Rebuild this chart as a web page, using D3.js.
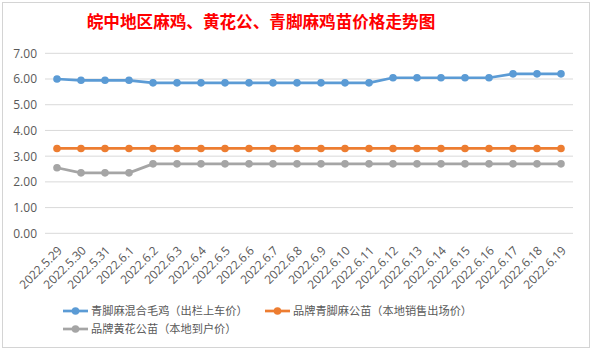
<!DOCTYPE html>
<html><head><meta charset="utf-8">
<script src="https://cdn.jsdelivr.net/npm/d3@7"></script>
<style>body{margin:0;background:#fff}svg{display:block}</style>
</head><body>
<script>
const categories = ["2022.5.29","2022.5.30","2022.5.31","2022.6.1","2022.6.2","2022.6.3","2022.6.4","2022.6.5","2022.6.6","2022.6.7","2022.6.8","2022.6.9","2022.6.10","2022.6.11","2022.6.12","2022.6.13","2022.6.14","2022.6.15","2022.6.16","2022.6.17","2022.6.18","2022.6.19"];
const seriesNames = ["青脚麻混合毛鸡（出栏上车价）","品牌青脚麻公苗（本地销售出场价）","品牌黄花公苗（本地到户价）"];
const blueValues = [6.0,5.95,5.95,5.95,5.85,5.85,5.85,5.85,5.85,5.85,5.85,5.85,5.85,5.85,6.05,6.05,6.05,6.05,6.05,6.2,6.2,6.2];
const orangeValues = [3.3,3.3,3.3,3.3,3.3,3.3,3.3,3.3,3.3,3.3,3.3,3.3,3.3,3.3,3.3,3.3,3.3,3.3,3.3,3.3,3.3,3.3];
const grayValues = [2.55,2.35,2.35,2.35,2.7,2.7,2.7,2.7,2.7,2.7,2.7,2.7,2.7,2.7,2.7,2.7,2.7,2.7,2.7,2.7,2.7,2.7];
const yTicks = [0,1,2,3,4,5,6,7];
const title = "皖中地区麻鸡、黄花公、青脚麻鸡苗价格走势图";
const colors = ["#5B9BD5","#ED7D31","#A5A5A5"];
const series = [blueValues, orangeValues, grayValues];

const W = 592, H = 351;
const svg = d3.select("body").append("svg").attr("width", W).attr("height", H);
const font = "'Noto Sans CJK SC',sans-serif";

// chart border
svg.append("rect").attr("x",2.5).attr("y",2.5).attr("width",587).attr("height",345)
  .attr("fill","#fff").attr("stroke","#D4D4D4").attr("stroke-width",1);

// title
svg.append("text").attr("x",261).attr("y",28).attr("text-anchor","middle")
  .attr("font-family","'Noto Sans CJK SC',serif").attr("font-weight","bold")
  .attr("font-size",16.6).attr("fill","#FF0000").text(title);

const x = d3.scaleBand().domain(categories).range([45,573]);
const y = d3.scaleLinear().domain([0,7]).range([233.3,53.3]);

// gridlines
svg.append("g").selectAll("line").data(yTicks).join("line")
  .attr("x1",45).attr("x2",573).attr("y1",d=>y(d)).attr("y2",d=>y(d))
  .attr("stroke","#D9D9D9").attr("stroke-width",1);

// y axis
const yAxis = svg.append("g").attr("transform","translate(45,0)")
  .call(d3.axisLeft(y).tickValues(yTicks).tickFormat(d3.format(".2f")).tickSize(0).tickPadding(8));
yAxis.select(".domain").remove();
yAxis.selectAll("text").attr("font-family","'Open Sans','Noto Sans',sans-serif").attr("font-size",12).attr("fill","#595959");

// x axis
const xAxis = svg.append("g").attr("transform","translate(0,233.3)")
  .call(d3.axisBottom(x).tickSize(0));
xAxis.select(".domain").remove();
xAxis.selectAll("text")
  .attr("font-family","'Open Sans','Noto Sans',sans-serif").attr("font-size",12).attr("fill","#595959")
  .attr("text-anchor","end")
  .attr("transform","translate(3,15) rotate(-45)")
  .attr("dy","0.35em").attr("y",0).attr("x",0);

// lines
const line = d3.line().x((d,i)=>x(categories[i])+x.bandwidth()/2).y(d=>y(d));
series.forEach((vals,k)=>{
  const g = svg.append("g");
  g.append("path").datum(vals).attr("d",line).attr("fill","none")
    .attr("stroke",colors[k]).attr("stroke-width",2.7).attr("stroke-linejoin","round");
  g.selectAll("circle").data(vals).join("circle")
    .attr("cx",(d,i)=>x(categories[i])+x.bandwidth()/2).attr("cy",d=>y(d))
    .attr("r",3.8).attr("fill",colors[k]);
});

// legend
const legendItems = [
  {x:63, y:311, k:0},
  {x:265, y:311, k:1},
  {x:63, y:329, k:2}
];
legendItems.forEach(it=>{
  const g = svg.append("g").attr("transform",`translate(${it.x},${it.y})`);
  g.append("line").attr("x1",0).attr("x2",25).attr("y1",0).attr("y2",0)
    .attr("stroke",colors[it.k]).attr("stroke-width",2.7);
  g.append("circle").attr("cx",12.5).attr("cy",0).attr("r",3.8).attr("fill",colors[it.k]);
  g.append("text").attr("x",28).attr("y",0).attr("dy","0.35em")
    .attr("font-family",font).attr("font-size",11.2).attr("fill","#595959")
    .text(seriesNames[it.k]);
});
</script>
</body></html>
